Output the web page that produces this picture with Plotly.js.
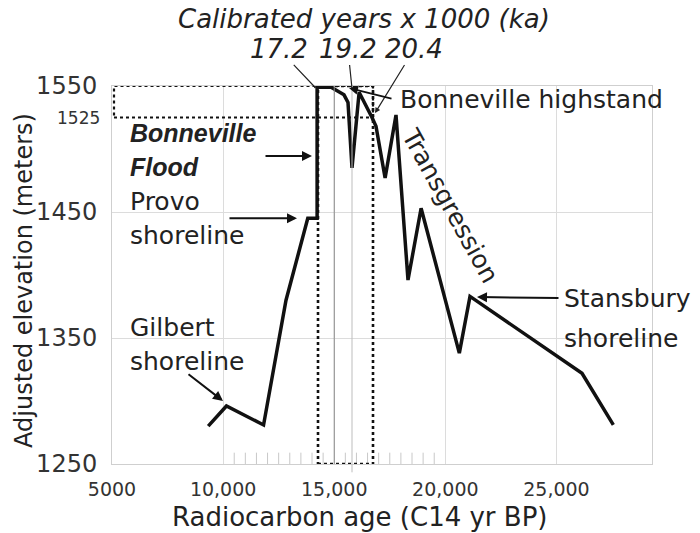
<!DOCTYPE html>
<html>
<head>
<meta charset="utf-8">
<script src="https://cdn.plot.ly/plotly-3.0.1.min.js"></script>
<style>html,body{margin:0;padding:0;background:#fff;}#chart{width:700px;height:533px;}</style>
</head>
<body>
<div id="chart"></div>
<script>
// Lake Bonneville hydrograph (radiocarbon age vs adjusted elevation)
const ageC14 = [9330, 10150, 11820, 12830, 13810, 14230, 14230, 14860, 15440, 15620, 15800, 16120, 16700, 16880, 17290, 17780, 18320, 18910, 20630, 21110, 26150, 27560];
const elevation = [1280, 1296, 1281, 1380, 1445, 1445, 1549, 1549, 1543, 1537, 1485, 1545, 1525, 1518, 1477, 1527, 1396, 1453, 1338, 1383, 1322, 1281];

const xTickVals = [5000, 10000, 15000, 20000, 25000];
const xTickText = ['5000', '10,000', '15,000', '20,000', '25,000'];
const yTickVals = [1250, 1350, 1450, 1550];
const yTickText = ['1250', '1350', '1450', '1550'];
const minorTicks = [10500, 11000, 11500, 12000, 12500, 13000, 13500, 14000, 14500, 15500, 16000, 16500, 17000, 17500, 18000, 18500, 19000, 19500];
const calLabels = ['17.2', '19.2', '20.4'];

const FONT = 'DejaVu Sans';
const INK = '#222';

const trace = {
  x: ageC14, y: elevation, type: 'scatter', mode: 'lines',
  line: {color: '#111', width: 3.5, shape: 'linear'},
  hoverinfo: 'x+y', showlegend: false
};

const shapes = [];
minorTicks.forEach(v => shapes.push({type: 'line', xref: 'x', yref: 'paper', x0: v, x1: v, y0: 0, y1: 0.03, line: {color: '#c8c8c8', width: 1}}));
// 15 ka gridline (darker)
shapes.push({type: 'line', xref: 'x', yref: 'paper', x0: 15000, x1: 15000, y0: 0, y1: 1, line: {color: '#8a8a8a', width: 1}});
// 19.2 ka reference line
shapes.push({type: 'line', xref: 'x', yref: 'paper', x0: 15800, x1: 15800, y0: -0.022, y1: 1, line: {color: '#bdbdbd', width: 1}});
// dotted boxes
shapes.push({type: 'rect', xref: 'x', yref: 'y', x0: 5090, x1: 16745, y0: 1525, y1: 1550, line: {color: '#111', width: 2.2, dash: 'dot'}});
shapes.push({type: 'rect', xref: 'x', yref: 'y', x0: 14270, x1: 16745, y0: 1250, y1: 1550, line: {color: '#111', width: 2.6, dash: 'dot'}});

function txt(t, x, y, size, opts) {
  return Object.assign({text: t, x: x, y: y, xref: 'x', yref: 'y', showarrow: false,
    font: {family: FONT, size: size, color: INK}, xanchor: 'left', yanchor: 'middle'}, opts || {});
}
function arrow(x0, y0, x1, y1, opts) {
  return Object.assign({text: '', x: x1, y: y1, ax: x0, ay: y0, xref: 'x', yref: 'y', axref: 'x', ayref: 'y',
    showarrow: true, arrowhead: 2, arrowsize: 1, arrowwidth: 2, arrowcolor: '#111', standoff: 0, startstandoff: 0}, opts || {});
}

const annotations = [
  {text: '<i>Calibrated years x 1000 (ka)</i>', xref: 'paper', yref: 'paper', x: 0.467, y: 1.178, xanchor: 'center', yanchor: 'middle',
   showarrow: false, borderpad: 0, font: {family: FONT, size: 26, color: INK}},
  {text: '<i>' + calLabels[0] + '</i>', x: 14135, y: 1549, ax: 12515, ay: 1579, xref: 'x', yref: 'y', axref: 'x', ayref: 'y', borderpad: 0,
   showarrow: true, arrowhead: 6, arrowsize: 0.4, arrowwidth: 1.2, arrowcolor: '#222', font: {family: FONT, size: 26, color: INK}},
  {text: '<i>' + calLabels[1] + '</i>', x: 15800, y: 1548, ax: 15620, ay: 1579, xref: 'x', yref: 'y', axref: 'x', ayref: 'y', borderpad: 0,
   showarrow: true, arrowhead: 0, arrowwidth: 1.2, arrowcolor: '#222', font: {family: FONT, size: 26, color: INK}},
  {text: '<i>' + calLabels[2] + '</i>', x: 16835, y: 1528.5, ax: 18590, ay: 1579, xref: 'x', yref: 'y', axref: 'x', ayref: 'y', borderpad: 0,
   showarrow: true, arrowhead: 2, arrowsize: 0.9, arrowwidth: 1.2, arrowcolor: '#222', font: {family: FONT, size: 26, color: INK}},

  txt('Bonneville highstand', 17870, 1539, 25),
  arrow(17645, 1539.7, 15665, 1548.4, {arrowwidth: 1.8}),

  txt('<b><i>Bonneville</i></b>', 5720, 1512.7, 25, {font: {family: 'Liberation Sans', size: 25, color: INK}}),
  txt('<b><i>Flood</i></b>', 5720, 1485.7, 25, {font: {family: 'Liberation Sans', size: 25, color: INK}}),
  arrow(11840, 1494.4, 14000, 1494.4),

  txt('Provo', 5720, 1458, 25),
  txt('shoreline', 5720, 1431, 25),
  arrow(10220, 1445, 13325, 1445),

  txt('Gilbert', 5720, 1358, 25),
  txt('shoreline', 5720, 1331, 25),
  arrow(8375, 1322.2, 9995, 1300),

  txt('Stansbury', 25250, 1381.7, 25),
  txt('shoreline', 25250, 1350, 25),
  arrow(25160, 1381.7, 21425, 1382.5),

  txt('Transgression', 20210, 1455, 25, {xanchor: 'center', textangle: 61}),

  // small 1525 label on the y axis
  {text: '1525', xref: 'paper', yref: 'y', x: 0, y: 1525, xshift: -10, xanchor: 'right', yanchor: 'middle', showarrow: false,
   font: {family: FONT, size: 17, color: '#333'}},
  // axis titles
  {text: 'Radiocarbon age (C14 yr BP)', xref: 'paper', yref: 'paper', x: 0.459, y: -0.14, xanchor: 'center', yanchor: 'middle',
   showarrow: false, borderpad: 0, font: {family: FONT, size: 26, color: INK}},
  {text: 'Adjusted elevation (meters)', xref: 'paper', yref: 'paper', x: -0.163, y: 0.487, xanchor: 'center', yanchor: 'middle',
   textangle: -90, showarrow: false, font: {family: FONT, size: 24, color: INK}}
];

const layout = {
  width: 700, height: 533,
  margin: {l: 112, r: 48, t: 86, b: 69, pad: 0},
  paper_bgcolor: '#fff', plot_bgcolor: '#fff',
  showlegend: false,
  xaxis: {
    range: [5000, 29300], tickmode: 'array', tickvals: xTickVals, ticktext: xTickText,
    showgrid: true, gridcolor: '#dcdcdc', gridwidth: 1, zeroline: false,
    showline: true, linecolor: '#cfcfcf', linewidth: 1, mirror: true, ticks: '',
    ticklabelstandoff: 8,
    tickfont: {family: FONT, size: 19, color: '#333'}
  },
  yaxis: {
    range: [1250, 1550], tickmode: 'array', tickvals: yTickVals, ticktext: yTickText,
    showgrid: true, gridcolor: '#dcdcdc', gridwidth: 1, zeroline: false,
    showline: true, linecolor: '#cfcfcf', linewidth: 1, mirror: true, ticks: '',
    ticklabelstandoff: 9,
    tickfont: {family: FONT, size: 24, color: '#333'}
  },
  shapes: shapes,
  annotations: annotations
};

Plotly.newPlot('chart', [trace], layout, {displayModeBar: false, staticPlot: true});
</script>
</body>
</html>
